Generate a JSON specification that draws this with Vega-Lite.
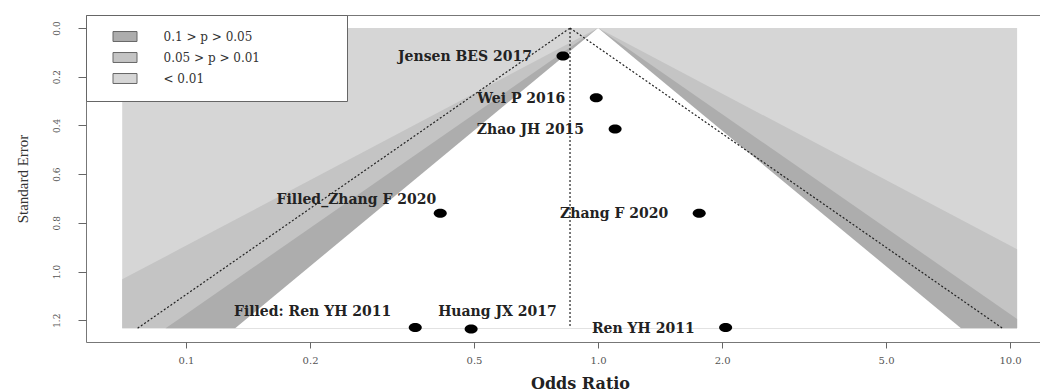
{
  "$schema": "https://vega.github.io/schema/vega-lite/v6.json",
  "autosize": {"type": "none"},
  "padding": {"left": 86, "top": 15, "right": 0, "bottom": 50},
  "width": 954,
  "height": 327,
  "background": "white",
  "config": {
    "font": "DejaVu Serif",
    "view": {"stroke": "#777", "strokeWidth": 1}
  },
  "datasets": {
    "bands": [
      {"band": "< 0.01", "or": 0.07, "or2": 10.4, "se": 0},
      {"band": "< 0.01", "or": 0.07, "or2": 10.4, "se": 1.233},
      {"band": "0.05 > p > 0.01", "or": 1, "or2": 1, "se": 0},
      {"band": "0.05 > p > 0.01", "or": 0.0962, "or2": 10.4, "se": 0.9091},
      {"band": "0.05 > p > 0.01", "or": 0.07, "or2": 10.4, "se": 1.0322},
      {"band": "0.05 > p > 0.01", "or": 0.07, "or2": 10.4, "se": 1.233},
      {"band": "0.1 > p > 0.05", "or": 1, "or2": 1, "se": 0},
      {"band": "0.1 > p > 0.05", "or": 0.0962, "or2": 10.4, "se": 1.1948},
      {"band": "0.1 > p > 0.05", "or": 0.0892, "or2": 10.4, "se": 1.233},
      {"band": "p > 0.1", "or": 1, "or2": 1, "se": 0},
      {"band": "p > 0.1", "or": 0.1316, "or2": 7.601, "se": 1.233}
    ],
    "lines": [
      {"line": "lower", "or": 0.855, "se": 0},
      {"line": "lower", "or": 0.0763, "se": 1.233},
      {"line": "upper", "or": 0.855, "se": 0},
      {"line": "upper", "or": 9.585, "se": 1.233},
      {"line": "pooled", "or": 0.855, "se": 0},
      {"line": "pooled", "or": 0.855, "se": 1.225}
    ],
    "studies": [
      {"study": "Jensen BES 2017", "or": 0.822, "se": 0.115},
      {"study": "Wei P 2016", "or": 0.99, "se": 0.286},
      {"study": "Zhao JH 2015", "or": 1.1, "se": 0.415},
      {"study": "Filled_Zhang F 2020", "or": 0.414, "se": 0.761},
      {"study": "Zhang F 2020", "or": 1.76, "se": 0.761},
      {"study": "Filled: Ren YH 2011", "or": 0.36, "se": 1.23},
      {"study": "Huang JX 2017", "or": 0.492, "se": 1.236},
      {"study": "Ren YH 2011", "or": 2.04, "se": 1.23}
    ]
  },
  "layer": [
    {
      "data": {"name": "bands"},
      "transform": [{"filter": "datum.band === '< 0.01'"}],
      "mark": {"type": "area", "orient": "horizontal", "opacity": 1},
      "encoding": {
        "y": {"field": "se", "type": "quantitative",
          "scale": {"domain": [-0.0534, 1.2895], "reverse": true, "nice": false, "zero": false},
          "axis": {"title": "Standard Error", "values": [0, 0.2, 0.4, 0.6, 0.8, 1.0, 1.2], "format": ".1f",
            "grid": false, "domain": false, "tickColor": "#666", "tickSize": 8,
            "labelAngle": -90, "labelAlign": "center", "labelBaseline": "bottom", "labelPadding": 17,
            "labelFont": "DejaVu Serif", "labelFontSize": 9, "labelColor": "#555",
            "titleFont": "Liberation Serif", "titleFontSize": 15, "titleFontWeight": "normal", "titleColor": "#333",
            "titleX": -64, "titleY": 163.5, "titleAngle": -90, "titleAlign": "center", "titleBaseline": "middle"}},
        "x": {"field": "or", "type": "quantitative",
          "scale": {"type": "log", "domain": [0.05718, 11.82], "nice": false},
          "axis": {"title": "Odds Ratio", "values": [0.1, 0.2, 0.5, 1, 2, 5, 10], "format": ".1f",
            "grid": false, "domain": false, "tickColor": "#666", "tickSize": 6, "labelPadding": 7,
            "labelFont": "DejaVu Serif", "labelFontSize": 10, "labelColor": "#555",
            "titleFont": "DejaVu Serif", "titleFontSize": 16, "titleFontWeight": "bold", "titleColor": "#222",
            "titleX": 494, "titleY": 46, "titleAlign": "center", "titleBaseline": "alphabetic"}},
        "x2": {"field": "or2"},
        "fill": {"field": "band", "type": "nominal",
          "scale": {"domain": ["0.1 > p > 0.05", "0.05 > p > 0.01", "< 0.01"], "range": ["#adadad", "#c4c4c4", "#d6d6d6"]},
          "legend": {"orient": "none", "legendX": 0, "legendY": 0, "padding": 15,
            "fillColor": "white", "strokeColor": "#666",
            "title": "\u00a0", "titleOrient": "right", "titlePadding": 72, "titleFontSize": 8,
            "symbolType": "M-2,-0.83H2V0.83H-2Z", "symbolSize": 144, "symbolOffset": 17.5,
            "symbolStrokeColor": "#666", "symbolStrokeWidth": 1, "symbolOpacity": 1,
            "labelOffset": 32, "labelFont": "DejaVu Serif", "labelFontSize": 12, "labelColor": "#333",
            "rowPadding": 6}}
      }
    },
    {
      "data": {"name": "bands"},
      "transform": [{"filter": "datum.band === '0.05 > p > 0.01'"}],
      "mark": {"type": "area", "orient": "horizontal", "opacity": 1},
      "encoding": {
        "y": {"field": "se", "type": "quantitative"},
        "x": {"field": "or", "type": "quantitative"},
        "x2": {"field": "or2"},
        "fill": {"field": "band", "type": "nominal"}
      }
    },
    {
      "data": {"name": "bands"},
      "transform": [{"filter": "datum.band === '0.1 > p > 0.05'"}],
      "mark": {"type": "area", "orient": "horizontal", "opacity": 1},
      "encoding": {
        "y": {"field": "se", "type": "quantitative"},
        "x": {"field": "or", "type": "quantitative"},
        "x2": {"field": "or2"},
        "fill": {"field": "band", "type": "nominal"}
      }
    },
    {
      "data": {"name": "bands"},
      "transform": [{"filter": "datum.band === 'p > 0.1'"}],
      "mark": {"type": "area", "orient": "horizontal", "opacity": 1, "fill": "white"},
      "encoding": {
        "y": {"field": "se", "type": "quantitative"},
        "x": {"field": "or", "type": "quantitative"},
        "x2": {"field": "or2"}
      }
    },
    {
      "data": {"name": "lines"},
      "mark": {"type": "line", "color": "#222", "strokeWidth": 1.2, "strokeDash": [2, 2]},
      "encoding": {
        "y": {"field": "se", "type": "quantitative"},
        "x": {"field": "or", "type": "quantitative"},
        "detail": {"field": "line", "type": "nominal"}
      }
    },
    {
      "data": {"name": "studies"},
      "mark": {"type": "point", "shape": "M-1.3,0A1.3,0.9,0,1,1,1.3,0A1.3,0.9,0,1,1,-1.3,0Z", "size": 100, "filled": true, "color": "black", "opacity": 1},
      "encoding": {
        "y": {"field": "se", "type": "quantitative"},
        "x": {"field": "or", "type": "quantitative"}
      }
    },
    {
      "data": {"name": "studies"},
      "transform": [{"filter": {"field": "study", "oneOf": ["Jensen BES 2017", "Wei P 2016", "Zhao JH 2015", "Zhang F 2020", "Ren YH 2011"]}}],
      "mark": {"type": "text", "align": "right", "baseline": "middle", "dx": -31, "dy": 1, "font": "DejaVu Serif", "fontSize": 14, "fontWeight": "bold", "color": "#222"},
      "encoding": {
        "y": {"field": "se", "type": "quantitative"},
        "x": {"field": "or", "type": "quantitative"},
        "text": {"field": "study"}
      }
    },
    {
      "data": {"name": "studies"},
      "transform": [{"filter": {"field": "study", "equal": "Filled_Zhang F 2020"}}],
      "mark": {"type": "text", "align": "right", "baseline": "middle", "dx": -4, "dy": -13, "font": "DejaVu Serif", "fontSize": 14, "fontWeight": "bold", "color": "#222"},
      "encoding": {
        "y": {"field": "se", "type": "quantitative"},
        "x": {"field": "or", "type": "quantitative"},
        "text": {"field": "study"}
      }
    },
    {
      "data": {"name": "studies"},
      "transform": [{"filter": {"field": "study", "equal": "Filled: Ren YH 2011"}}],
      "mark": {"type": "text", "align": "right", "baseline": "middle", "dx": -24, "dy": -16, "font": "DejaVu Serif", "fontSize": 14, "fontWeight": "bold", "color": "#222"},
      "encoding": {
        "y": {"field": "se", "type": "quantitative"},
        "x": {"field": "or", "type": "quantitative"},
        "text": {"field": "study"}
      }
    },
    {
      "data": {"name": "studies"},
      "transform": [{"filter": {"field": "study", "equal": "Huang JX 2017"}}],
      "mark": {"type": "text", "align": "left", "baseline": "middle", "dx": -33, "dy": -17, "font": "DejaVu Serif", "fontSize": 14, "fontWeight": "bold", "color": "#222"},
      "encoding": {
        "y": {"field": "se", "type": "quantitative"},
        "x": {"field": "or", "type": "quantitative"},
        "text": {"field": "study"}
      }
    }
  ]
}
